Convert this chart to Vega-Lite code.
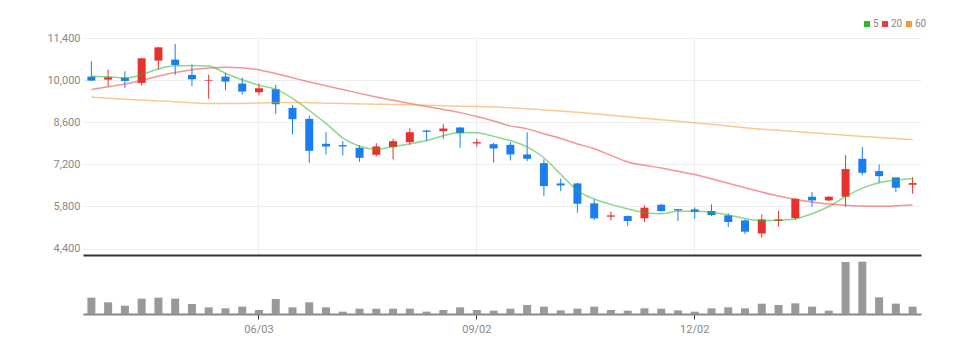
{
  "$schema": "https://vega.github.io/schema/vega-lite/v6.json",
  "padding": {"left": 46, "top": 19, "right": 0, "bottom": 0},
  "spacing": 2,
  "background": "white",
  "config": {
    "view": {"stroke": null},
    "font": "Roboto",
    "axis": {"labelFont": "Roboto", "labelColor": "#888", "labelFontSize": 11, "title": null},
    "legend": {"labelFont": "Roboto"}
  },
  "datasets": {
    "d": [
      {"date":"2024-03-25","open":10117,"high":10626,"low":9962,"close":9984,"volume":49000,"ma5":10130,"ma20":9690,"ma60":9443},
      {"date":"2024-04-01","open":10017,"high":10349,"low":9796,"close":10095,"volume":35000,"ma5":10110,"ma20":9780,"ma60":9400},
      {"date":"2024-04-08","open":10084,"high":10294,"low":9741,"close":9973,"volume":25000,"ma5":10070,"ma20":9870,"ma60":9365},
      {"date":"2024-04-15","open":9907,"high":10747,"low":9818,"close":10725,"volume":46000,"ma5":10180,"ma20":9990,"ma60":9340},
      {"date":"2024-04-22","open":10648,"high":11112,"low":10349,"close":11090,"volume":49000,"ma5":10380,"ma20":10130,"ma60":9310},
      {"date":"2024-04-29","open":10681,"high":11201,"low":10172,"close":10504,"volume":46000,"ma5":10480,"ma20":10250,"ma60":9280},
      {"date":"2024-05-06","open":10172,"high":10515,"low":9796,"close":10029,"volume":30000,"ma5":10482,"ma20":10345,"ma60":9250},
      {"date":"2024-05-13","open":9973,"high":10183,"low":9376,"close":9995,"volume":20000,"ma5":10470,"ma20":10400,"ma60":9225},
      {"date":"2024-05-20","open":10117,"high":10239,"low":9664,"close":9951,"volume":17000,"ma5":10230,"ma20":10430,"ma60":9220},
      {"date":"2024-05-27","open":9885,"high":10084,"low":9520,"close":9619,"volume":22000,"ma5":10010,"ma20":10410,"ma60":9225},
      {"date":"2024-06-03","open":9597,"high":9885,"low":9498,"close":9730,"volume":12000,"ma5":9830,"ma20":10340,"ma60":9240},
      {"date":"2024-06-10","open":9697,"high":9841,"low":8878,"close":9199,"volume":45000,"ma5":9700,"ma20":10220,"ma60":9255},
      {"date":"2024-06-17","open":9077,"high":9177,"low":8193,"close":8701,"volume":20000,"ma5":9390,"ma20":10080,"ma60":9260},
      {"date":"2024-06-24","open":8712,"high":8823,"low":7253,"close":7651,"volume":35000,"ma5":8990,"ma20":9940,"ma60":9250},
      {"date":"2024-07-01","open":7883,"high":8270,"low":7529,"close":7794,"volume":20000,"ma5":8560,"ma20":9810,"ma60":9235},
      {"date":"2024-07-08","open":7839,"high":7971,"low":7496,"close":7794,"volume":7000,"ma5":8080,"ma20":9686,"ma60":9222},
      {"date":"2024-07-15","open":7750,"high":7839,"low":7286,"close":7418,"volume":16000,"ma5":7800,"ma20":9560,"ma60":9210},
      {"date":"2024-07-22","open":7518,"high":7905,"low":7463,"close":7794,"volume":16000,"ma5":7700,"ma20":9440,"ma60":9200},
      {"date":"2024-07-29","open":7772,"high":8049,"low":7363,"close":7971,"volume":16000,"ma5":7790,"ma20":9330,"ma60":9190},
      {"date":"2024-08-05","open":7938,"high":8403,"low":7850,"close":8270,"volume":16000,"ma5":7880,"ma20":9220,"ma60":9180},
      {"date":"2024-08-12","open":8325,"high":8347,"low":7971,"close":8281,"volume":7000,"ma5":7990,"ma20":9120,"ma60":9165},
      {"date":"2024-08-19","open":8303,"high":8547,"low":8049,"close":8392,"volume":12000,"ma5":8150,"ma20":9020,"ma60":9150},
      {"date":"2024-08-26","open":8425,"high":8447,"low":7750,"close":8237,"volume":20000,"ma5":8260,"ma20":8920,"ma60":9135},
      {"date":"2024-09-02","open":7894,"high":8049,"low":7783,"close":7938,"volume":12000,"ma5":8250,"ma20":8790,"ma60":9120},
      {"date":"2024-09-09","open":7872,"high":7916,"low":7253,"close":7728,"volume":10000,"ma5":8130,"ma20":8640,"ma60":9111},
      {"date":"2024-09-16","open":7850,"high":7938,"low":7330,"close":7529,"volume":16000,"ma5":7990,"ma20":8480,"ma60":9080},
      {"date":"2024-09-23","open":7529,"high":8270,"low":7308,"close":7385,"volume":27000,"ma5":7780,"ma20":8380,"ma60":9050},
      {"date":"2024-09-30","open":7241,"high":7363,"low":6146,"close":6478,"volume":22000,"ma5":7419,"ma20":8220,"ma60":9010},
      {"date":"2024-10-07","open":6567,"high":6722,"low":6312,"close":6500,"volume":11000,"ma5":6870,"ma20":8060,"ma60":8970},
      {"date":"2024-10-14","open":6567,"high":6589,"low":5594,"close":5892,"volume":16000,"ma5":6330,"ma20":7880,"ma60":8930},
      {"date":"2024-10-21","open":5903,"high":6036,"low":5350,"close":5406,"volume":22000,"ma5":6050,"ma20":7720,"ma60":8880},
      {"date":"2024-10-28","open":5461,"high":5627,"low":5339,"close":5505,"volume":12000,"ma5":5870,"ma20":7500,"ma60":8830},
      {"date":"2024-11-04","open":5483,"high":5505,"low":5151,"close":5317,"volume":10000,"ma5":5720,"ma20":7280,"ma60":8779},
      {"date":"2024-11-11","open":5406,"high":5837,"low":5284,"close":5760,"volume":17000,"ma5":5600,"ma20":7170,"ma60":8730},
      {"date":"2024-11-18","open":5859,"high":5881,"low":5627,"close":5649,"volume":16000,"ma5":5560,"ma20":7080,"ma60":8680},
      {"date":"2024-11-25","open":5715,"high":5715,"low":5317,"close":5671,"volume":11000,"ma5":5640,"ma20":6970,"ma60":8630},
      {"date":"2024-12-02","open":5704,"high":5771,"low":5395,"close":5616,"volume":7000,"ma5":5640,"ma20":6865,"ma60":8580},
      {"date":"2024-12-09","open":5649,"high":5870,"low":5483,"close":5516,"volume":17000,"ma5":5610,"ma20":6720,"ma60":8530},
      {"date":"2024-12-16","open":5505,"high":5572,"low":5118,"close":5284,"volume":20000,"ma5":5520,"ma20":6570,"ma60":8475},
      {"date":"2024-12-23","open":5339,"high":5372,"low":4875,"close":4963,"volume":17000,"ma5":5400,"ma20":6420,"ma60":8420},
      {"date":"2024-12-30","open":4903,"high":5538,"low":4764,"close":5372,"volume":31000,"ma5":5330,"ma20":6280,"ma60":8370},
      {"date":"2025-01-06","open":5317,"high":5649,"low":5129,"close":5372,"volume":27000,"ma5":5340,"ma20":6150,"ma60":8330},
      {"date":"2025-01-13","open":5417,"high":6080,"low":5350,"close":6058,"volume":32000,"ma5":5390,"ma20":6036,"ma60":8290},
      {"date":"2025-01-20","open":6124,"high":6279,"low":5793,"close":6003,"volume":22000,"ma5":5560,"ma20":5950,"ma60":8250},
      {"date":"2025-01-27","open":6003,"high":6146,"low":5970,"close":6124,"volume":10000,"ma5":5800,"ma20":5880,"ma60":8210},
      {"date":"2025-02-03","open":6124,"high":7507,"low":5793,"close":7042,"volume":156000,"ma5":6130,"ma20":5840,"ma60":8170},
      {"date":"2025-02-10","open":7385,"high":7772,"low":6843,"close":6921,"volume":157000,"ma5":6410,"ma20":5813,"ma60":8130},
      {"date":"2025-02-17","open":6976,"high":7197,"low":6589,"close":6810,"volume":50000,"ma5":6590,"ma20":5810,"ma60":8095},
      {"date":"2025-02-24","open":6766,"high":6766,"low":6279,"close":6423,"volume":31000,"ma5":6676,"ma20":5825,"ma60":8060},
      {"date":"2025-03-03","open":6522,"high":6777,"low":6224,"close":6578,"volume":22000,"ma5":6722,"ma20":5847,"ma60":8026}
    ]
  },
  "vconcat": [
    {
      "width": 838,
      "height": 217,
      "data": {"name": "d"},
      "encoding": {
        "x": {
          "field": "date", "type": "ordinal", "sort": null,
          "scale": {"paddingInner": 0, "paddingOuter": 0},
          "axis": {
            "values": ["2024-06-03", "2024-09-02", "2024-12-02"],
            "labels": false, "ticks": false,
            "domain": true, "domainColor": "#333", "domainWidth": 2,
            "grid": true, "gridColor": "#eeeeee", "gridWidth": 1
          }
        }
      },
      "layer": [
        {
          "mark": {"type": "rule", "strokeWidth": 1},
          "encoding": {
            "y": {
              "field": "low", "type": "quantitative",
              "scale": {"domain": [4188, 11400], "nice": false, "zero": false},
              "axis": {
                "values": [4400, 5800, 7200, 8600, 10000, 11400], "format": ",d",
                "ticks": false, "domain": false, "labelPadding": 3,
                "grid": true, "gridColor": "#eeeeee"
              }
            },
            "y2": {"field": "high"},
            "color": {"condition": {"test": "datum.close >= datum.open", "value": "#e8312f"}, "value": "#1a7ef0"}
          }
        },
        {
          "mark": {"type": "bar", "width": 8},
          "encoding": {
            "y": {"field": "open", "type": "quantitative"},
            "y2": {"field": "close"},
            "color": {"condition": {"test": "datum.close >= datum.open", "value": "#e8312f"}, "value": "#1a7ef0"}
          }
        },
        {
          "transform": [{"fold": ["ma5", "ma20", "ma60"], "as": ["ma", "val"]}],
          "mark": {"type": "line", "strokeWidth": 1.5, "opacity": 0.55, "interpolate": "monotone"},
          "encoding": {
            "y": {"field": "val", "type": "quantitative"},
            "color": {
              "field": "ma", "type": "nominal",
              "scale": {"domain": ["ma5", "ma20", "ma60"], "range": ["#2cb82c", "#ec3a45", "#f29a3a"]},
              "legend": {
                "orient": "none", "legendX": 779, "legendY": -19,
                "direction": "horizontal", "title": null,
                "symbolType": "square", "symbolSize": 36, "symbolOpacity": 1,
                "symbolStrokeWidth": 0,
                "labelExpr": "replace(datum.label, 'ma', '')",
                "labelColor": "#888", "labelFontSize": 10,
                "labelOffset": 1, "columnPadding": 1, "symbolOffset": 0,
                "gridAlign": "none",
                "encode": {"symbols": {"update": {"fill": {"scale": "color", "field": "value"}, "fillOpacity": {"value": 1}}}}
              }
            }
          }
        }
      ]
    },
    {
      "width": 838,
      "height": 57,
      "data": {"name": "d"},
      "mark": {"type": "bar", "width": 8, "color": "#999999"},
      "encoding": {
        "x": {
          "field": "date", "type": "ordinal", "sort": null,
          "scale": {"paddingInner": 0, "paddingOuter": 0},
          "axis": {
            "values": ["2024-06-03", "2024-09-02", "2024-12-02"],
            "labelExpr": "slice(datum.value, 5, 7) + '/' + slice(datum.value, 8, 10)",
            "labelAngle": 0, "labelPadding": 4,
            "ticks": true, "tickColor": "#333", "tickSize": 5,
            "domain": true, "domainColor": "#888", "domainWidth": 2,
            "grid": false
          }
        },
        "y": {
          "field": "volume", "type": "quantitative",
          "scale": {"domain": [0, 171000], "nice": false},
          "axis": null
        }
      }
    }
  ]
}
